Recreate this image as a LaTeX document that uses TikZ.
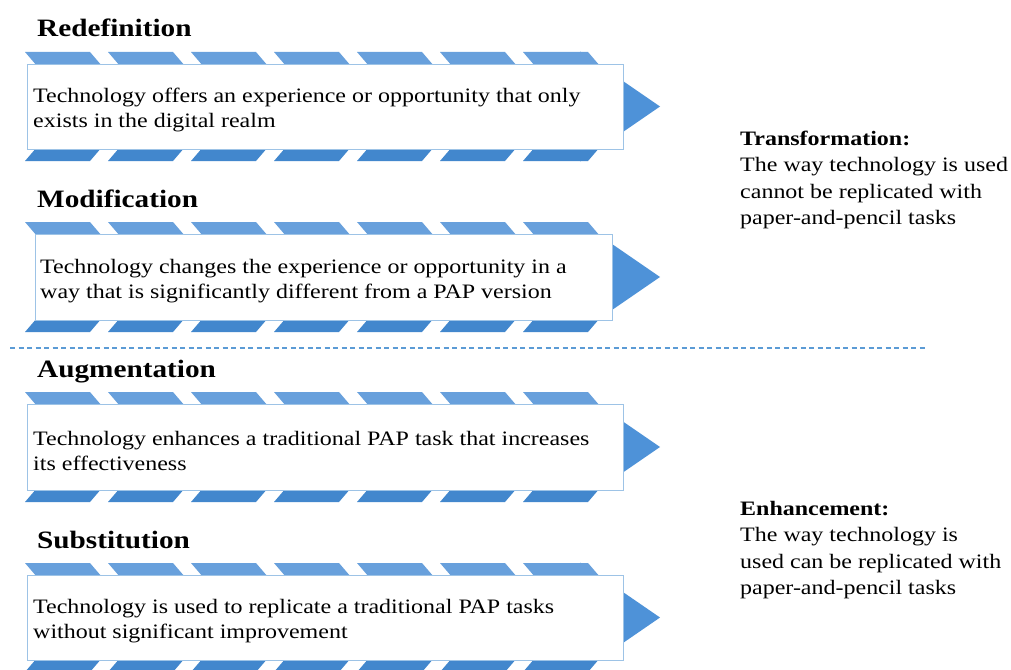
\documentclass[tikz,border=0pt]{standalone}
\usepackage{fontspec}
\setmainfont{Liberation Serif}[FakeStretch=1.17]
\definecolor{stripeA}{RGB}{104,160,220}
\definecolor{stripeB}{RGB}{66,135,205}
\definecolor{boxline}{RGB}{157,195,230}
\definecolor{tricol}{RGB}{78,146,216}
\definecolor{dashcol}{RGB}{91,155,213}
\tikzset{
  boxnode/.style={draw=boxline, line width=1.4pt, fill=white, rectangle, inner sep=0pt, anchor=north west},
  bodytext/.style={anchor=west, align=left, inner sep=0pt, font=\fontsize{20.5}{25}\selectfont},
  titletext/.style={anchor=base west, inner sep=0pt, font=\bfseries\fontsize{25}{30}\selectfont},
  sidetext/.style={anchor=west, align=left, inner sep=0pt, font=\fontsize{20.5}{26.5}\selectfont},
  dashline/.style={draw=dashcol, line width=2.2pt, dash pattern=on 5pt off 3.5pt},
}
% #1 name, #2 box top, #3 box bottom, #4 box left, #5 box right
\newcommand\samrrow[5]{%
  \pgfmathsetmacro\rc{(#2+#3)/2}
  \fill[tricol] (580,\rc-55) -- (660,\rc) -- (580,\rc+55) -- cycle;
  \foreach \i in {0,...,6}{
    \pgfmathsetmacro\a{25+83*\i}
    \fill[stripeA] (\a,#2-12) -- (\a+65,#2-12) -- (\a+77,#2+2) -- (\a+12,#2+2) -- cycle;
    \fill[stripeB] (\a+12,#3-2) -- (\a+77,#3-2) -- (\a+65,#3+12) -- (\a,#3+12) -- cycle;
  }
  \node[boxnode, minimum width=#5-#4, minimum height=#3-#2] (#1) at (#4,#2) {};
}
\begin{document}
\begin{tikzpicture}[x=1pt,y=-1pt]
\useasboundingbox[fill=white] (0,0) rectangle (1011,669);

\samrrow{b1}{64}{149}{27}{623}
\samrrow{b2}{234}{320}{35}{612}
\samrrow{b3}{404}{490}{27}{623}
\samrrow{b4}{575}{660}{27}{623}

\node[titletext] (t1) at (37,37) {Redefinition};
\node[titletext] (t2) at (37,207) {Modification};
\node[titletext] (t3) at (37,377) {Augmentation};
\node[titletext] (t4) at (37,548) {Substitution};

\node[bodytext, xshift=6pt, yshift=-3pt] (x1) at (b1.west) {Technology offers an experience or opportunity that only\\exists in the digital realm};
\node[bodytext, xshift=5pt, yshift=-3pt] (x2) at (b2.west) {Technology changes the experience or opportunity in a\\way that is significantly different from a PAP version};
\node[bodytext, xshift=6pt, yshift=-3pt] (x3) at (b3.west) {Technology enhances a traditional PAP task that increases\\its effectiveness};
\node[bodytext, xshift=6pt, yshift=-3pt] (x4) at (b4.west) {Technology is used to replicate a traditional PAP tasks\\without significant improvement};

\coordinate (d1) at (10,348);
\coordinate (d2) at (927,348);
\draw[dashline] (d1) -- (d2);

\node[sidetext] (s1) at (740,180) {\textbf{Transformation:}\\The way technology is used\\cannot be replicated with\\paper-and-pencil tasks};
\node[sidetext] (s2) at (740,550) {\textbf{Enhancement:}\\The way technology is\\used can be replicated with\\paper-and-pencil tasks};
\end{tikzpicture}
\end{document}
